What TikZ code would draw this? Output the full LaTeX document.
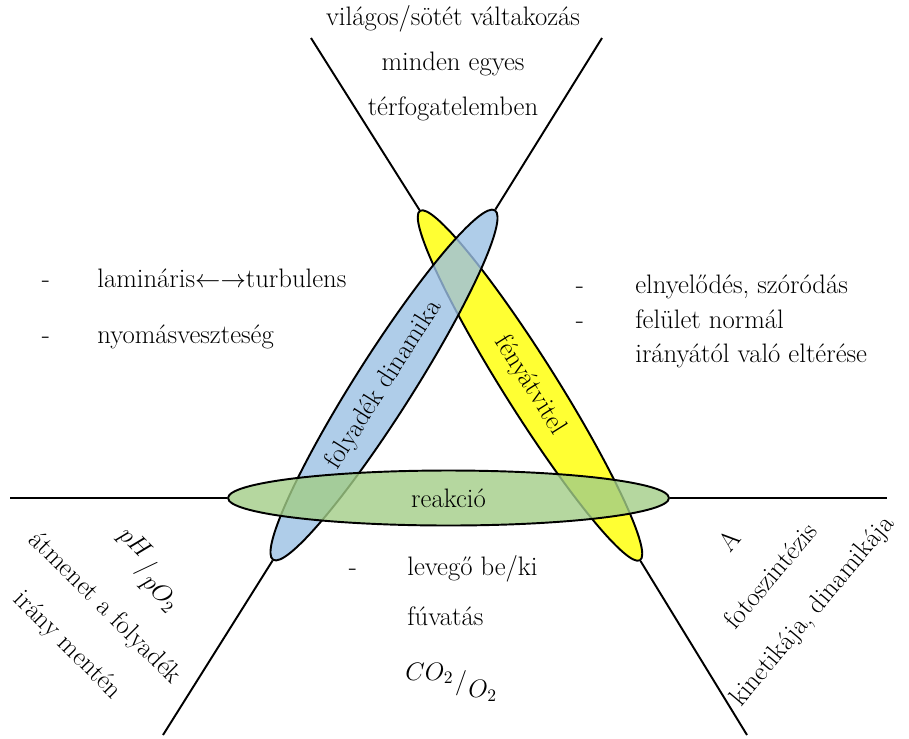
\documentclass[tikz,border=0pt]{standalone}
\usepackage{amsmath}
\usetikzlibrary{shapes.geometric, positioning}

\definecolor{lightyellow}{RGB}{255,255,51}
\definecolor{fluidblue}{RGB}{155,192,228}
\definecolor{reactgreen}{RGB}{162,205,135}

\newcommand{\mainsize}{\fontsize{15.2}{18}\selectfont}
\newcommand{\skewfrac}[2]{\raisebox{0.6ex}{$#1$}\hspace{0.05em}\raisebox{-0.25ex}{\Large$/$}\hspace{0.05em}\raisebox{-1.0ex}{$#2$}}

\begin{document}
\begin{tikzpicture}[
    x=0.02cm, y=-0.02cm,
    band/.style={ellipse, draw=black, line width=1.1pt, fill opacity=0.8, text opacity=1, inner sep=0pt, font=\mainsize},
    axisline/.style={line width=1.1pt},
    txt/.style={font=\mainsize, inner sep=0pt},
    item/.style={txt, anchor=base west},
    bulletmark/.style={txt, anchor=base}
]
\useasboundingbox (0,0) rectangle (909,738);

%=== The three overlapping fields
\node[band, fill=lightyellow, fill opacity=1, minimum width=8.26cm, minimum height=1.05cm, rotate=-57.8] (light) at (530,385.5) {fényátvitel};
\node[band, fill=fluidblue, minimum width=8.28cm, minimum height=1.15cm, rotate=57.6] (fluid) at (384,385) {folyadék dinamika};
\node[band, fill=reactgreen, minimum width=8.82cm, minimum height=1.1cm] (react) at (448.5,498) {reakció};

%=== Axis lines running out of the ellipse ends
\coordinate (topL) at (311,38);
\coordinate (topR) at (602,38);
\coordinate (midL) at (10,498);
\coordinate (midR) at (887,498);
\coordinate (botL) at (163,735);
\coordinate (botR) at (747,735);

\draw[axisline] (topL) -- (light.west);
\draw[axisline] (topR) -- (fluid.east);
\draw[axisline] (midL) -- (react.west);
\draw[axisline] (react.east) -- (midR);
\draw[axisline] (fluid.west) -- (botL);
\draw[axisline] (light.east) -- (botR);

%=== Top sector: light
\node[bulletmark] (top1) at (453,25)  {világos/sötét váltakozás};
\node[bulletmark] (top2) at (453,70)  {minden egyes};
\node[bulletmark] (top3) at (453,115) {térfogatelemben};

%=== Left sector: fluid dynamics
\node[bulletmark] (ldash1) at (46,287) {-};
\node[item]       (ltext1) at (97,287) {lamináris$\leftarrow\rightarrow$turbulens};
\node[bulletmark] (ldash2) at (46,343) {-};
\node[item]       (ltext2) at (97,343) {nyomásveszteség};

%=== Right sector: light transfer
\node[bulletmark] (rdash1) at (580,293) {-};
\node[item]       (rtext1) at (635,293) {elnyelődés, szóródás};
\node[bulletmark] (rdash2) at (580,328) {-};
\node[item]       (rtext2) at (635,328) {felület normál};
\node[item]       (rtext3) at (635,362) {irányától való eltérése};

%=== Bottom sector: reaction
\node[bulletmark] (bdash1) at (353,575) {-};
\node[item]       (btext1) at (407,575) {levegő be/ki};
\node[item]       (btext2) at (407,625) {fúvatás};
\node[txt, anchor=west] (gasratio) at (405,682) {\Large\skewfrac{CO_2}{O_2}};

%=== Lower left corner, rotated
\node[txt, rotate=-45] (phratio) at (148,570) {\Large\skewfrac{pH}{pO_2}};
\node[txt, rotate=-45, align=center, font=\fontsize{15.2}{30}\selectfont] (flowdir) at (86,627)
    {átmenet a folyadék\\irány mentén};

%=== Lower right corner, rotated
\node[txt, rotate=50, align=center, font=\fontsize{15.2}{30.5}\selectfont] (kinetics) at (772,577)
    {A\\fotoszintézis\\kinetikája, dinamikája};

\end{tikzpicture}
\end{document}
